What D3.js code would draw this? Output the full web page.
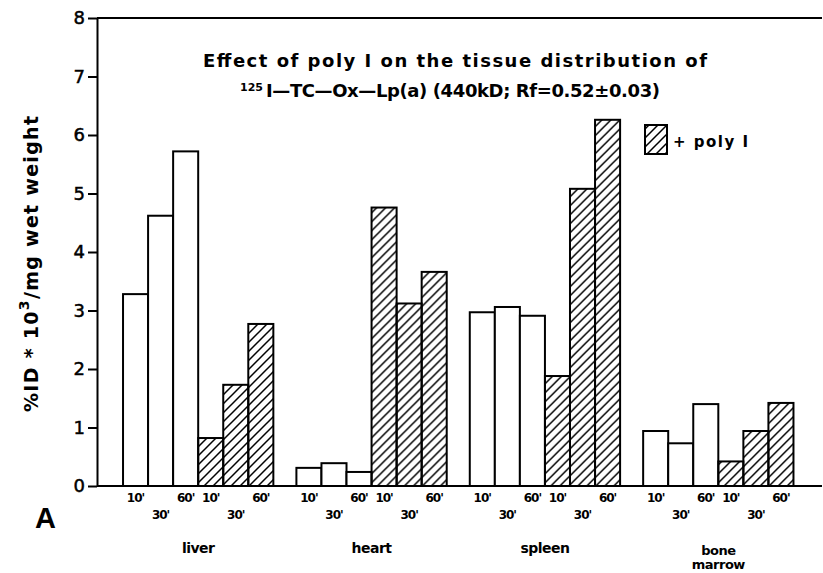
<!DOCTYPE html>
<html>
<head>
<meta charset="utf-8">
<script src="https://cdn.jsdelivr.net/npm/d3@7"></script>
<style>
  body { margin: 0; background: #fff; }
  svg { display: block; font-family: 'DejaVu Sans', 'Liberation Sans', sans-serif; }
</style>
</head>
<body>
<div id="container"></div>
<script>
const tissues = ['liver', 'heart', 'spleen', 'bone marrow'];
const times = ["10'", "30'", "60'"];
// %ID * 10^3 / mg wet weight, control then + poly I
const control = [[3.28, 4.62, 5.72], [0.31, 0.39, 0.24], [2.97, 3.06, 2.91], [0.94, 0.73, 1.40]];
const polyI = [[0.82, 1.73, 2.77], [4.76, 3.12, 3.66], [1.88, 5.08, 6.26], [0.42, 0.94, 1.42]];
const yTicks = [0, 1, 2, 3, 4, 5, 6, 7, 8];

const W = 823, H = 573;
const plotLeft = 97, plotTop = 18, plotBottom = 486, plotRight = 822;
const font = "'DejaVu Sans', 'Liberation Sans', sans-serif";

const svg = d3.select('#container').append('svg')
    .attr('width', W)
    .attr('height', H);

// hatch for the + poly I bars
svg.append('defs').append('pattern')
    .attr('id', 'hatch')
    .attr('patternUnits', 'userSpaceOnUse')
    .attr('width', 9)
    .attr('height', 9)
    .append('path')
    .attr('d', 'M0,9 L9,0 M-2,2 L2,-2 M7,11 L11,7')
    .style('stroke', '#000')
    .style('stroke-width', 1.5);

const y = d3.scaleLinear().domain([0, 8]).range([plotBottom, plotTop]);

const x0 = d3.scaleBand().domain(tissues)
    .range([111.5, 805])
    .paddingInner(0.133)
    .paddingOuter(0.0665);

const keys = ['c0', 'c1', 'c2', 'p0', 'p1', 'p2'];
const x1 = d3.scaleBand().domain(keys).range([0, x0.bandwidth()]);

// frame top line
svg.append('line')
    .attr('x1', plotLeft).attr('x2', plotRight)
    .attr('y1', plotTop).attr('y2', plotTop)
    .style('stroke', '#000').style('stroke-width', 2);

// bars
tissues.forEach((t, i) => {
    const rows = keys.map((k, j) => ({
        key: k,
        value: j < 3 ? control[i][j] : polyI[i][j - 3],
        hatched: j >= 3
    }));
    const g = svg.append('g').attr('transform', `translate(${x0(t)},0)`);
    g.selectAll('rect').data(rows).join('rect')
        .attr('x', d => x1(d.key))
        .attr('y', d => y(d.value))
        .attr('width', x1.bandwidth())
        .attr('height', d => y(0) - y(d.value))
        .style('fill', d => d.hatched ? 'url(#hatch)' : '#fff')
        .style('stroke', '#000')
        .style('stroke-width', 2);

    // time labels under each bar, 30' dropped to second row
    const ax = svg.append('g')
        .attr('transform', `translate(${x0(t)},${plotBottom})`)
        .call(d3.axisBottom(x1).tickSize(0).tickPadding(7)
            .tickFormat(k => times[+k[1]]));
    ax.select('.domain').remove();
    ax.selectAll('text')
        .style('font-family', font)
        .style('font-size', '12px')
        .style('font-weight', 'bold')
        .style('letter-spacing', '-1px')
        .attr('dy', k => k[1] === '1' ? '2.2em' : '0.75em');
});

// tissue names
const names = svg.append('g');
tissues.forEach(t => {
    const parts = t.split(' ');
    const cx = x0(t) + x0.bandwidth() / 2;
    const tx = names.append('text')
        .attr('text-anchor', 'middle')
        .attr('x', cx)
        .attr('y', parts.length > 1 ? 555 : 553)
        .style('font-size', parts.length > 1 ? '13px' : '14px')
        .style('font-weight', 'bold')
        .style('letter-spacing', '-0.5px');
    parts.forEach((p, k) => {
        tx.append('tspan')
            .attr('x', cx)
            .attr('dy', k === 0 ? 0 : 14)
            .text(p);
    });
});

// y axis
const yAxis = svg.append('g')
    .attr('transform', `translate(${plotLeft},0)`)
    .call(d3.axisLeft(y).tickValues(yTicks).tickSize(9).tickSizeOuter(0).tickPadding(3));
yAxis.selectAll('path, line').style('stroke', '#000').style('stroke-width', 2);
yAxis.selectAll('text')
    .style('font-family', font)
    .style('font-size', '18px')
    .style('fill', '#000')
    .style('stroke', '#000')
    .style('stroke-width', 0.5);

// bottom axis line
svg.append('line')
    .attr('x1', plotLeft).attr('x2', plotRight)
    .attr('y1', plotBottom).attr('y2', plotBottom)
    .style('stroke', '#000').style('stroke-width', 2);

// y title
const yt = svg.append('text')
    .attr('transform', 'translate(38 264) rotate(-90)')
    .attr('text-anchor', 'middle')
    .attr('textLength', 296)
    .attr('lengthAdjust', 'spacing')
    .style('font-size', '19px')
    .style('font-weight', 'bold');
yt.append('tspan').text('%ID * 10');
yt.append('tspan').attr('dy', -9).style('font-size', '14px').text('3');
yt.append('tspan').attr('dy', 9).text('/mg wet weight');

// chart title
svg.append('text')
    .attr('x', 203).attr('y', 67)
    .attr('textLength', 504)
    .attr('lengthAdjust', 'spacing')
    .style('font-size', '18px')
    .style('font-weight', 'bold')
    .text('Effect of poly I on the tissue distribution of');

svg.append('text')
    .attr('x', 240).attr('y', 91)
    .style('font-size', '11px')
    .style('font-weight', 'bold')
    .text('125');

svg.append('text')
    .attr('x', 266).attr('y', 97)
    .attr('textLength', 394)
    .attr('lengthAdjust', 'spacing')
    .style('font-size', '18px')
    .style('font-weight', 'bold')
    .text('I—TC—Ox—Lp(a) (440kD; Rf=0.52±0.03)');

// legend
svg.append('rect')
    .attr('x', 645).attr('y', 125)
    .attr('width', 22).attr('height', 29)
    .style('fill', 'url(#hatch)')
    .style('stroke', '#000')
    .style('stroke-width', 2);

svg.append('text')
    .attr('x', 673).attr('y', 147)
    .attr('textLength', 75)
    .attr('lengthAdjust', 'spacing')
    .style('font-size', '15px')
    .style('font-weight', 'bold')
    .text('+ poly I');

// panel letter
svg.append('text')
    .attr('x', 35).attr('y', 528)
    .style('font-family', "'Liberation Sans', Arial, sans-serif")
    .style('font-size', '29px')
    .style('font-weight', 'bold')
    .text('A');
</script>
</body>
</html>
